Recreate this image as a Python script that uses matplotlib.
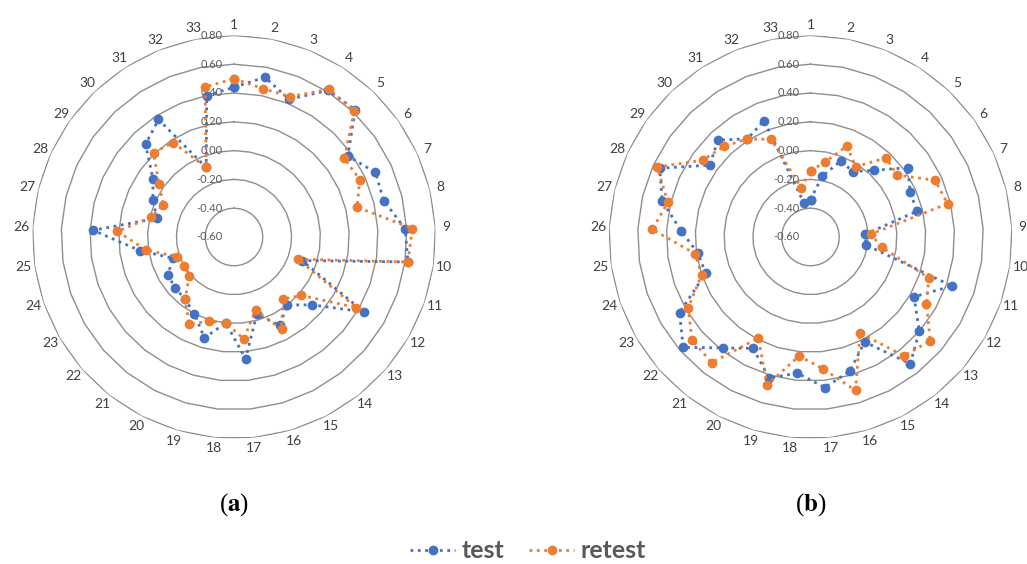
import numpy as np
import matplotlib
matplotlib.use("Agg")
import matplotlib.pyplot as plt

plt.rcParams['font.family'] = ['Lato', 'DejaVu Sans']
plt.rcParams['mathtext.fontset'] = 'stix'

categories = [str(i) for i in range(1, 34)]
ring_values = [-0.4, -0.2, 0.0, 0.2, 0.4, 0.6, 0.8]
tick_values = [-0.6, -0.4, -0.2, 0.0, 0.2, 0.4, 0.6, 0.8]

# chart (a)
test_a = [0.44, 0.53, 0.43, 0.61, 0.62, 0.37, 0.48, 0.47, 0.59, 0.62, -0.10,
          0.44, 0.12, 0.00, 0.09, -0.04, 0.25, 0.00, 0.13, 0.00, -0.05, -0.06,
          -0.07, -0.15, 0.06, 0.38, -0.05, 0.02, 0.09, 0.29, 0.37, -0.08, 0.40]
retest_a = [0.50, 0.45, 0.45, 0.62, 0.61, 0.34, 0.36, 0.28, 0.64, 0.62, -0.13,
            0.38, 0.02, -0.05, 0.12, -0.07, 0.11, 0.00, 0.01, 0.08, -0.05, -0.19,
            -0.20, -0.18, 0.02, 0.21, -0.01, -0.06, 0.04, 0.21, 0.18, -0.08, 0.46]

# chart (b)
test_b = [-0.34, -0.17, -0.03, -0.06, 0.04, 0.23, 0.16, 0.16, -0.22, -0.21, 0.44,
          0.23, 0.40, 0.52, 0.22, 0.37, 0.45, 0.35, 0.42, 0.27, 0.38, 0.57,
          0.45, 0.17, 0.19, 0.30, 0.46, 0.55, 0.26, 0.33, 0.21, 0.27, -0.36]
retest_b = [-0.14, -0.07, 0.08, -0.02, 0.16, 0.14, 0.35, 0.38, -0.18, -0.10, 0.27,
            0.33, 0.50, 0.45, 0.15, 0.51, 0.32, 0.23, 0.47, 0.19, 0.51, 0.49,
            0.38, 0.20, 0.21, 0.50, 0.42, 0.57, 0.32, 0.27, 0.21, 0.13, -0.25]

blue = '#4472C4'
orange = '#ED7D31'
grid_col = '#8E8E8E'

W, H = 1027, 564
fig = plt.figure(figsize=(W / 100, H / 100), dpi=100)

R = 201.6  # pixel radius of the 0.80 ring
cy = 237


def radar(cx, test, retest, caption):
    ax = fig.add_axes([(cx - R) / W, (H - cy - R) / H, 2 * R / W, 2 * R / H],
                      projection='polar')
    ax.set_theta_zero_location('N')
    ax.set_theta_direction(-1)
    ax.set_ylim(-0.6, 0.8)
    ax.set_xticks([])
    ax.set_yticks([])
    ax.grid(False)
    ax.spines['polar'].set_visible(False)

    n = len(categories)
    th = np.linspace(0, 2 * np.pi, n, endpoint=False)
    thc = np.append(th, th[0])

    for v in ring_values:
        ax.plot(thc, [v] * (n + 1), color=grid_col, lw=1.0, zorder=1)

    for v in tick_values:
        ax.annotate(f'{v:.2f}', xy=(0, v), xytext=(-8, 0), textcoords='offset points',
                    ha='right', va='center', fontsize=8, color='#595959', zorder=2)

    for t, lab in zip(th, categories):
        ax.text(t, 0.875, lab, ha='center', va='center', fontsize=10,
                color='#404040', clip_on=False)

    l1, = ax.plot(thc, test + test[:1], color=blue, ls=':', lw=2.0, marker='o',
                  ms=6, zorder=3, label='test')
    l2, = ax.plot(thc, retest + retest[:1], color=orange, ls=':', lw=2.0, marker='o',
                  ms=6, zorder=4, label='retest')

    fig.text(cx / W, 1 - 505 / H, caption, ha='center', va='center', fontsize=18,
             family='Liberation Serif')
    return l1, l2


h1, h2 = radar(234, test_a, retest_a, r'($\mathbf{a}$)')
radar(810.5, test_b, retest_b, r'($\mathbf{b}$)')

fig.legend(handles=[h1, h2], loc='center', bbox_to_anchor=(528 / W, 1 - 551 / H),
           ncol=2, frameon=False, handlelength=1.8, handletextpad=0.25,
           columnspacing=1.0, prop={'family': 'Lato', 'weight': 'bold', 'size': 18},
           labelcolor='#595959')

fig.savefig('out.png', dpi=100)
